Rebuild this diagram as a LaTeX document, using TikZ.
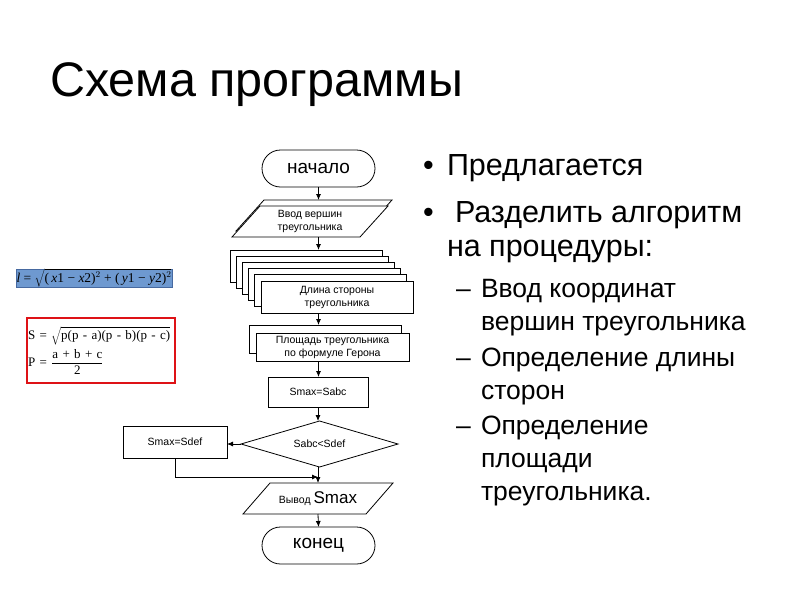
\documentclass[tikz,border=0pt]{standalone}
\usepackage{fontspec}
\setmainfont{Liberation Sans}
\newfontfamily\timesf{Liberation Serif}
\usetikzlibrary{arrows.meta,calc}
\pgfdeclarelayer{bg}
\pgfsetlayers{bg,main}
\definecolor{formblue}{RGB}{110,153,208}
\definecolor{formblueedge}{RGB}{70,105,160}
\definecolor{formred}{RGB}{222,18,22}
\begin{document}
\begin{tikzpicture}[x=1pt,y=-1pt,
  every node/.style={inner sep=0pt, outer sep=0pt},
  ln/.style={line width=0.8pt},
  box/.style={draw, ln, fill=white, align=center, font=\fontsize{10.5}{13}\selectfont},
  ghost/.style={align=center, font=\fontsize{10.5}{13}\selectfont},
  term/.style={draw, ln, fill=white, rounded corners=18.5pt, minimum width=113pt, minimum height=37pt, font=\fontsize{19}{22}\selectfont},
  arr/.style={ln, -{Latex[length=6pt,width=5pt]}},
  mainfont/.style={anchor=base west, font=\fontsize{30.5}{36}\selectfont},
  subfont/.style={anchor=base west, font=\fontsize{26.5}{31}\selectfont}]
\path[use as bounding box] (0,0) rectangle (800,600);

% title
\node[anchor=base west, font=\fontsize{48.5}{58}\selectfont] (title) at (50,96) {Схема программы};

% flowchart
\node[term] (start) at (318.5,168.5) {начало};

\node[ghost, minimum width=156pt, minimum height=31pt] (inp) at (310,221.5) {Ввод вершин\\треугольника};
\coordinate (inptop) at ($(inp.north)+(0,-6)$);
\begin{pgfonlayer}{bg}
\draw[ln, fill=white] ($(inp.north west)+(32,-6)$) -- ($(inp.north east)+(4,-6)$) -- ($(inp.south east)+(-24,-6)$) -- ($(inp.south west)+(4,-6)$) -- cycle;
\draw[ln, fill=white] ($(inp.north west)+(28,0)$) -- (inp.north east) -- ($(inp.south east)+(-28,0)$) -- (inp.south west) -- cycle;
\end{pgfonlayer}

\foreach \k in {0,...,4}
  \node[box, minimum width=152pt, minimum height=32pt] (len\k) at ({306+6.2*\k},{266+6.2*\k}) {};
\node[box, minimum width=152pt, minimum height=32pt] (len) at (337,297) {Длина стороны\\треугольника};

\node[box, minimum width=152pt, minimum height=28pt] (area0) at (325,339) {};
\node[box, minimum width=153pt, minimum height=28pt] (area) at (332.5,347) {Площадь треугольника\\по формуле Герона};

\node[box, minimum width=100pt, minimum height=30pt] (sabc) at (318,392) {Smax=Sabc};

\node[ghost, minimum width=157pt, minimum height=46pt] (cond) at (319.5,444) {Sabc<Sdef};
\begin{pgfonlayer}{bg}
\draw[ln, fill=white] (cond.west) -- (cond.north) -- (cond.east) -- (cond.south) -- cycle;
\end{pgfonlayer}

\node[box, minimum width=104pt, minimum height=32pt] (sdef) at (175,442) {Smax=Sdef};
\coordinate (j) at (318,477);

\node[ghost, minimum width=150pt, minimum height=31pt] (out) at (318,498.5) {Вывод {\fontsize{17}{20}\selectfont Smax}};
\begin{pgfonlayer}{bg}
\draw[ln, fill=white] ($(out.north west)+(27,0)$) -- (out.north east) -- ($(out.south east)+(-27,0)$) -- (out.south west) -- cycle;
\end{pgfonlayer}

\node[term] (end) at (318.5,545.5) {конец};

% connectors
\draw[arr] (start.south) -- (start.south |- inptop);
\draw[arr] (start.south |- inp.south) -- (start.south |- len0.north);
\draw[arr] (start.south |- len.south) -- (start.south |- area0.north);
\draw[arr] (start.south |- area.south) -- (start.south |- sabc.north);
\draw[arr] (sabc.south) -- (sabc.south |- cond.north);
\draw[arr] (cond.west) -- (cond.west -| sdef.east);
\draw[arr] (sdef.south) |- (j);
\draw[arr] (sabc.south |- cond.south) -- (sabc.south |- out.north);
\draw[arr] (out.south) -- (end.north);

% formulas
\node[fill=formblue, draw=formblueedge, line width=0.6pt, minimum width=156pt, minimum height=18pt,
      font=\timesf\fontsize{13.5}{15}\selectfont] (f1) at (94,278)
  {\textit{l} = $\sqrt{\hbox{(\,\textit{x}1 − \textit{x}2)$^{2}$ + (\,\textit{y}1 − \textit{y}2)$^{2}$}}$};
\node[draw=formred, line width=2.5pt, minimum width=148pt, minimum height=65pt, text width=146pt, align=left,
      font=\timesf\fontsize{13}{20}\selectfont] (f2) at (101,350.5)
  {\mbox{S = $\sqrt{\hbox{p(p - a)(p - b)(p - c)}}$}\\[3pt]
   \mbox{P = $\displaystyle\frac{\hbox{a + b + c}}{\hbox{2}}$}};

% right text
\node[mainfont] (b1) at (423,175) {•};
\node[mainfont] (t1) at (447,175) {Предлагается};
\node[mainfont] (b2) at (423,222) {•};
\node[mainfont] (t2) at (455,222) {Разделить алгоритм};
\node[mainfont] (t3) at (447,256) {на процедуры:};

\node[subfont] (d1) at (456,297) {–};
\node[subfont] (s1) at (481,297) {Ввод координат};
\node[subfont] (s2) at (481,330) {вершин треугольника};
\node[subfont] (d2) at (456,366) {–};
\node[subfont] (s3) at (481,366) {Определение длины};
\node[subfont] (s4) at (481,399) {сторон};
\node[subfont] (d3) at (456,434) {–};
\node[subfont] (s5) at (481,434) {Определение};
\node[subfont] (s6) at (481,467) {площади};
\node[subfont] (s7) at (481,500) {треугольника.};
\end{tikzpicture}
\end{document}
